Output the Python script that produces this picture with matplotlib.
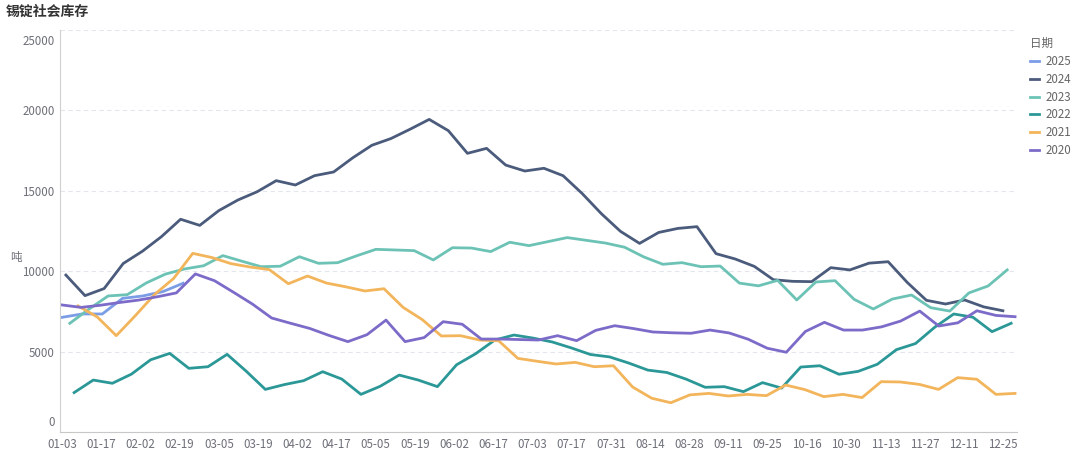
import numpy as np
import matplotlib
matplotlib.use("Agg")
import matplotlib.pyplot as plt
from matplotlib.transforms import ScaledTranslation

plt.rcParams['font.family'] = ['Noto Sans CJK SC', 'DejaVu Sans']

#%% data (weekly social inventory of tin ingot, tonnes)

date_labels = ['01-03', '01-17', '02-02', '02-19', '03-05', '03-19', '04-02', '04-17',
               '05-05', '05-19', '06-02', '06-17', '07-03', '07-17', '07-31', '08-14',
               '08-28', '09-11', '09-25', '10-16', '10-30', '11-13', '11-27', '12-11',
               '12-25']

y2025 = [7130, 7340, 7340, 8310, 8460, 8730, 9250]

y2024 = [9760, 8480, 8920, 10480, 11240, 12150, 13230, 12850, 13770, 14430, 14940, 15630,
         15360, 15940, 16170, 17050, 17830, 18250, 18830, 19440, 18740, 17330, 17640, 16600,
         16230, 16400, 15940, 14830, 13580, 12480, 11730, 12410, 12660, 12770, 11090, 10760,
         10300, 9470, 9370, 9350, 10220, 10080, 10500, 10590, 9300, 8190, 7960, 8210, 7780,
         7540]

y2023 = [6760, 7640, 8460, 8540, 9270, 9820, 10140, 10340, 10970, 10620, 10280, 10310,
         10900, 10490, 10530, 10960, 11360, 11320, 11280, 10700, 11460, 11440, 11220, 11800,
         11590, 11840, 12090, 11920, 11750, 11490, 10890, 10430, 10530, 10280, 10320, 9260,
         9090, 9430, 8210, 9330, 9410, 8250, 7650, 8270, 8520, 7730, 7520, 8650, 9080, 10080]

y2022 = [2450, 3230, 3030, 3600, 4490, 4890, 3960, 4060, 4830, 3780, 2650, 2950, 3190,
         3750, 3290, 2340, 2840, 3540, 3230, 2820, 4180, 4870, 5720, 6030, 5840, 5600, 5230,
         4820, 4670, 4290, 3850, 3700, 3290, 2780, 2820, 2510, 3070, 2730, 4040, 4120, 3590,
         3770, 4210, 5120, 5500, 6510, 7340, 7140, 6240, 6760]

y2021 = [7840, 7160, 5990, 7240, 8550, 9550, 11110, 10850, 10470, 10260, 10100, 9220, 9700,
         9260, 9030, 8770, 8910, 7750, 6990, 5970, 5990, 5720, 5670, 4580, 4400, 4230, 4330,
         4060, 4120, 2800, 2100, 1820, 2310, 2400, 2240, 2340, 2260, 2920, 2640, 2200, 2340,
         2140, 3130, 3110, 2960, 2650, 3380, 3280, 2340, 2400]

y2020 = [7900, 7750, 7880, 8050, 8200, 8410, 8650, 9830, 9410, 8690, 7950, 7090, 6760,
         6440, 6010, 5620, 6050, 6960, 5620, 5870, 6860, 6700, 5780, 5780, 5750, 5720, 5990,
         5680, 6320, 6610, 6430, 6220, 6170, 6140, 6340, 6160, 5770, 5210, 4960, 6250, 6820,
         6340, 6340, 6540, 6900, 7520, 6590, 6790, 7540, 7250, 7170]

years = ['2025', '2024', '2023', '2022', '2021', '2020']
values = [y2025, y2024, y2023, y2022, y2021, y2020]

#%% styling / where each year's weekly run sits on the date axis

colors = ['#7b9de6', '#4b5b7c', '#6cc3b5', '#2b9897', '#f3b55b', '#7c6bc8']
spans = [(0.0, 3.09), (0.10, 24.0), (0.20, 24.11), (0.31, 24.21), (0.41, 24.31), (0.0, 24.31)]

fig = plt.figure(figsize=(10.8, 4.51), dpi=100)
ax = fig.add_axes([60/1080, 19/451, (1017-60)/1080, (432-30)/451])

for yr, vals, c, (x0, x1) in zip(years, values, colors, spans):
    xs = np.linspace(x0, x1, len(vals))
    ax.plot(xs, vals, color=c, lw=2.0, label=yr, solid_joinstyle='round')

ax.set_xlim(-0.05, 24.36)
ax.set_ylim(0, 25000)
ax.set_xticks(range(len(date_labels)))
ax.set_xticklabels(date_labels)
ax.set_yticks([0, 5000, 10000, 15000, 20000, 25000])
ax.set_yticklabels(['0', '5000', '10000', '15000', '20000', '25000'])
ax.tick_params(axis='both', length=0, labelsize=8.3, colors='#6e7079')
ax.tick_params(axis='x', pad=4)
ax.tick_params(axis='y', pad=4)

for yv in [5000, 10000, 15000, 20000, 25000]:
    ax.axhline(yv, color='#e3e6ec', lw=0.8, ls=(0, (4, 3)), zorder=0)

for s in ['top', 'right']:
    ax.spines[s].set_visible(False)
ax.spines['left'].set_color('#d0d0d0')
ax.spines['bottom'].set_color('#c8c8c8')
ax.spines['left'].set_linewidth(0.8)
ax.spines['bottom'].set_linewidth(0.8)

# first / last y labels sit inside the axis range
ylabs = ax.get_yticklabels()
ylabs[0].set_transform(ylabs[0].get_transform() + ScaledTranslation(0, 0.11, fig.dpi_scale_trans))
ylabs[-1].set_transform(ylabs[-1].get_transform() + ScaledTranslation(0, -0.10, fig.dpi_scale_trans))

fig.text(6/1080, 1-12/451, '锡锭社会库存', fontsize=10, fontweight='bold', color='#333333',
         ha='left', va='center')
fig.text(10/1080, 1-258/451, '吨', fontsize=8.3, color='#6e7079', ha='left', va='center')

leg = fig.legend(loc='upper left', bbox_to_anchor=(1022/1080, 1-29/451), frameon=False,
                 title='日期', fontsize=8.3, title_fontsize=8.3, handlelength=0.8,
                 handletextpad=0.5, labelspacing=0.42, alignment='left', borderpad=0.2)
for t in leg.get_texts():
    t.set_color('#666666')
leg.get_title().set_color('#666666')

fig.savefig('out.png', dpi=100)
